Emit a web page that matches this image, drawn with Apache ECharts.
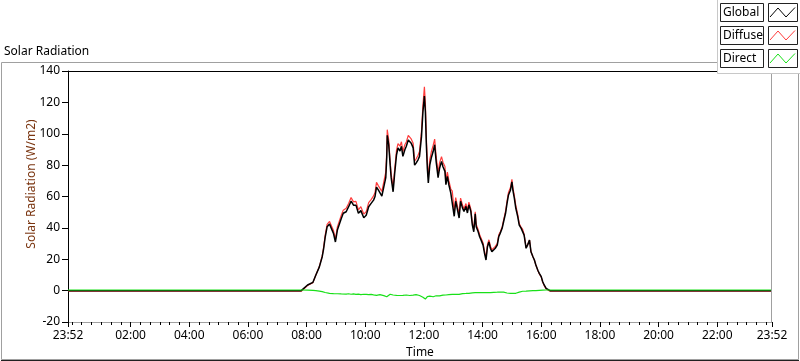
<!DOCTYPE html>
<html>
<head>
<meta charset="utf-8">
<script src="https://cdn.jsdelivr.net/npm/echarts@6/dist/echarts.min.js"></script>
<style>
html,body{margin:0;padding:0;background:#fff;}
#chart{width:800px;height:361px;}
</style>
</head>
<body>
<div id="chart"></div>
<script>
// Time in minutes since midnight (-8 = 23:52 previous day, 1432 = 23:52)
var times = [
  -8, 458, 469, 472, 482, 493, 499, 506, 512, 515,
  518, 522, 527, 531, 535, 539, 543, 547, 551, 555,
  561, 566, 571, 576, 581, 586, 591, 597, 602, 607,
  612, 617, 620, 623, 627, 630, 634, 638, 642, 644,
  645, 648, 651, 653, 657, 660, 664, 667, 671, 674,
  677, 681, 684, 688, 691, 694, 698, 701, 704, 708,
  711, 715, 718, 721, 723, 725, 727, 729, 732, 735,
  739, 742, 745, 749, 752, 756, 759, 763, 765, 768,
  771, 775, 778, 782, 785, 788, 792, 795, 799, 802,
  806, 809, 812, 816, 819, 822, 825, 827, 831, 834,
  837, 841, 844, 847, 850, 853, 856, 859, 863, 866,
  870, 873, 876, 880, 883, 887, 890, 893, 897, 900,
  902, 905, 908, 912, 915, 919, 922, 925, 929, 932,
  936, 939, 943, 946, 949, 953, 956, 960, 963, 966,
  970, 974, 978, 1432
];
var globalRad = [
  0, 0, 0, 0.8, 3.6, 5.3, 10, 15, 21.6, 27,
  34, 40.7, 42.4, 41.8, 36.5, 31, 38.6, 39.7, 46, 49.3,
  50.3, 53.5, 57, 54.5, 54.5, 49.3, 51, 46.5, 48, 53.5,
  55.6, 57.7, 60, 66, 64, 63, 60.3, 60.3, 72, 85,
  99, 93, 80, 72, 63, 74, 86.6, 91, 89, 92,
  85.6, 89.8, 92, 96, 95, 94, 91, 80, 81.3, 83.4,
  85.6, 98, 114, 124, 114, 93, 78, 68.6, 80, 84.5,
  88.8, 93, 82.4, 72, 78, 82.4, 79, 76, 67.5, 72.8,
  67.5, 62.2, 61, 47.4, 57, 52.6, 46.3, 57, 52.6, 50.5,
  53.7, 49.5, 54.7, 50.5, 42, 37.5, 49, 40.7, 37.5, 34.3,
  32.2, 29, 23.8, 19.5, 28, 31, 27, 24.8, 26, 27,
  29, 34.3, 36.5, 39.7, 43.9, 49.3, 55.6, 61, 64, 69.4,
  64, 58.8, 52.5, 47, 41.8, 39.7, 38.6, 35.4, 27, 29,
  32.2, 24.8, 21.6, 19.5, 16.3, 13, 11, 8.9, 5.7, 3.6,
  1.5, 0.4, 0, 0
];
var diffuseRad = [
  -0.4, -0.4, -0.4, 0.4, 3.3, 5.1, 10, 15.3, 22.2, 27.9,
  35.2, 42.2, 44.1, 43.4, 38.4, 32.7, 40.6, 41.5, 48.1, 51.3,
  52.5, 55.5, 59.3, 56.6, 56.9, 51.5, 53.5, 48.8, 50.4, 56.1,
  58.0, 60.4, 62.5, 69.0, 66.8, 65.6, 63.2, 63.5, 75.5, 88.9,
  102.6, 96.0, 82.3, 74.5, 65.8, 76.6, 89.6, 93.7, 92.1, 94.9,
  88.6, 93.0, 94.8, 98.9, 98.1, 96.7, 93.9, 82.6, 83.9, 86.3,
  88.7, 101.4, 118.2, 130, 119.4, 97.6, 81.8, 72.5, 83.5, 88.2,
  92.7, 96.6, 85.7, 75.1, 81.4, 85.4, 81.9, 79.2, 70.3, 75.5,
  70.1, 64.8, 63.4, 50.1, 59.3, 54.8, 48.7, 59.0, 54.5, 52.2,
  55.5, 51.1, 56.4, 52.0, 43.4, 39.1, 50.3, 42.2, 38.8, 35.7,
  33.4, 30.4, 25.1, 20.7, 29.3, 32.4, 28.3, 26.0, 27.1, 28.2,
  30.0, 35.4, 37.4, 40.6, 44.9, 50.6, 57.1, 62.6, 65.7, 70.9,
  65.7, 60.4, 54.2, 48.4, 42.8, 40.3, 39.0, 35.9, 27.3, 29.2,
  32.3, 24.8, 21.6, 19.4, 16.3, 12.9, 10.8, 8.6, 5.4, 3.2,
  1.1, 0, -0.4, -0.4
];
var directRad = [
  0.4, 0.4, 0.4, 0.4, 0.3, 0.2, 0, -0.3, -0.6, -0.9,
  -1.2, -1.5, -1.7, -1.6, -1.9, -1.7, -2.0, -1.8, -2.1, -2.0,
  -2.2, -2.0, -2.3, -2.1, -2.4, -2.2, -2.5, -2.3, -2.4, -2.6,
  -2.4, -2.7, -2.5, -3.0, -2.8, -2.6, -2.9, -3.2, -3.5, -3.9,
  -3.6, -3.0, -2.3, -2.5, -2.8, -2.6, -3.0, -2.7, -3.1, -2.9,
  -3.0, -3.2, -2.8, -2.9, -3.1, -2.7, -2.9, -2.6, -2.6, -2.9,
  -3.1, -3.4, -4.2, -5.0, -5.4, -4.6, -3.8, -3.9, -3.5, -3.7,
  -3.9, -3.6, -3.3, -3.1, -3.4, -3.0, -2.9, -3.2, -2.8, -2.7,
  -2.6, -2.6, -2.4, -2.7, -2.3, -2.2, -2.4, -2.0, -1.9, -1.7,
  -1.8, -1.6, -1.7, -1.5, -1.4, -1.6, -1.3, -1.5, -1.3, -1.4,
  -1.2, -1.4, -1.3, -1.2, -1.3, -1.4, -1.3, -1.2, -1.1, -1.2,
  -1.0, -1.1, -0.9, -0.9, -1.0, -1.3, -1.5, -1.6, -1.7, -1.5,
  -1.7, -1.6, -1.7, -1.4, -1.0, -0.6, -0.4, -0.5, -0.3, -0.2,
  -0.1, 0, 0, 0.1, 0, 0.1, 0.2, 0.3, 0.3, 0.4,
  0.4, 0.4, 0.4, 0.4
];
// x-axis tick labels (minutes)
var majorTicks = [-8, 120, 240, 360, 480, 600, 720, 840, 960, 1080, 1200, 1320, 1432];
var yTicks = [-20, 0, 20, 40, 60, 80, 100, 120, 140];
var legendNames = ['Global', 'Diffuse', 'Direct'];
var seriesColors = {Global: '#000000', Diffuse: '#ff3c3c', Direct: '#19e019'};

var allTicks = [-8];
for (var m = 0; m <= 1420; m += 20) allTicks.push(m);
allTicks.push(1432);

function pair(vals) { return times.map(function (t, i) { return [t, vals[i]]; }); }
function fmt(v) {
  var mm = ((v % 1440) + 1440) % 1440;
  var h = Math.floor(mm / 60), mi = Math.round(mm % 60);
  return (h < 10 ? '0' : '') + h + ':' + (mi < 10 ? '0' : '') + mi;
}

var FONT = 'Noto Sans';
var chart = echarts.init(document.getElementById('chart'), null, {renderer: 'canvas'});

var graphics = [
  // outer frame
  {type: 'rect', shape: {x: 1.5, y: 62.5, width: 797, height: 297}, style: {fill: 'none', stroke: '#a0a0a0', lineWidth: 1}, silent: true, z: 0},
  {type: 'line', shape: {x1: 1, y1: 360.5, x2: 799, y2: 360.5}, style: {stroke: '#202020', lineWidth: 1}, silent: true},
  // plot frame top (dark) and right (light)
  {type: 'line', shape: {x1: 68, y1: 71.5, x2: 772, y2: 71.5}, style: {stroke: '#000', lineWidth: 1}, silent: true, z: 10},
  {type: 'line', shape: {x1: 771.5, y1: 71, x2: 771.5, y2: 322}, style: {stroke: '#a0a0a0', lineWidth: 1}, silent: true, z: 10},
  // title
  {type: 'text', left: 4, top: 46, style: {text: 'Solar Radiation', font: '12px "' + FONT + '"', fill: '#000'}},
  // y axis name
  {type: 'text', x: 32, y: 184, rotation: Math.PI / 2, style: {text: 'Solar Radiation (W/m2)', font: '12px "' + FONT + '"', fill: '#7a3510', align: 'center', verticalAlign: 'middle'}},
  // legend panel
  {type: 'rect', shape: {x: 717.5, y: -1, width: 90, height: 74.5}, style: {fill: '#fff', stroke: '#c8c8c8', lineWidth: 1}, z: 20}
];
var legendTops = [3.5, 26.5, 49.5];
legendNames.forEach(function (name, i) {
  var ty = legendTops[i];
  graphics.push({type: 'rect', shape: {x: 720.5, y: ty, width: 43, height: 18}, style: {fill: '#fff', stroke: '#222', lineWidth: 1}, z: 21});
  graphics.push({type: 'text', x: 723, y: ty + 9.5, style: {text: name, font: '12px "' + FONT + '"', fill: '#000', verticalAlign: 'middle'}, z: 22});
  graphics.push({type: 'rect', shape: {x: 768.5, y: ty, width: 29, height: 18}, style: {fill: '#fff', stroke: '#222', lineWidth: 1}, z: 21});
  graphics.push({type: 'polyline', shape: {points: [[770, ty + 13.5], [778, ty + 4.5], [786, ty + 13.5], [795, ty + 4]]}, style: {stroke: seriesColors[name], lineWidth: 1, fill: 'none'}, z: 22});
});

var option = {
  animation: false,
  backgroundColor: '#fff',
  grid: {left: 68, right: 28, top: 71, bottom: 39, containLabel: false, outerBoundsMode: 'none'},
  xAxis: [
    {
      type: 'value', min: -8, max: 1432, position: 'bottom',
      name: 'Time', nameLocation: 'middle', nameGap: 25,
      nameTextStyle: {fontFamily: FONT, fontSize: 12, color: '#000'},
      axisLine: {show: true, onZero: false, lineStyle: {color: '#a0a0a0', width: 1}},
      axisTick: {show: true, customValues: allTicks, length: 3, lineStyle: {color: '#000'}},
      axisLabel: {show: true, customValues: majorTicks, margin: 8, fontFamily: FONT, fontSize: 12, color: '#000', formatter: fmt, showMinLabel: true, showMaxLabel: true},
      splitLine: {show: false}
    },
    {
      type: 'value', min: -8, max: 1432, position: 'bottom', offset: 0,
      axisLine: {show: true, onZero: false, lineStyle: {color: 'rgba(0,0,0,0)'}},
      axisTick: {show: true, customValues: majorTicks, length: 5, lineStyle: {color: '#000'}},
      axisLabel: {show: true, customValues: majorTicks, color: 'rgba(0,0,0,0)', formatter: fmt},
      splitLine: {show: false}
    }
  ],
  yAxis: {
    type: 'value', min: -20, max: 140, interval: 20,
    axisLine: {show: true, onZero: false, lineStyle: {color: '#000', width: 1}},
    axisTick: {show: true, length: 6, lineStyle: {color: '#000'}},
    axisLabel: {margin: 8, fontFamily: FONT, fontSize: 12, color: '#000', customValues: yTicks},
    splitLine: {show: false}
  },
  series: [
    {name: 'Diffuse', type: 'line', xAxisIndex: 0, data: pair(diffuseRad), showSymbol: false, symbol: 'none', lineStyle: {color: seriesColors.Diffuse, width: 1.2}, z: 2},
    {name: 'Global', type: 'line', xAxisIndex: 0, data: pair(globalRad), showSymbol: false, symbol: 'none', lineStyle: {color: seriesColors.Global, width: 1.5}, z: 3},
    {name: 'Direct', type: 'line', xAxisIndex: 0, data: pair(directRad), showSymbol: false, symbol: 'none', lineStyle: {color: seriesColors.Direct, width: 1.2}, z: 4}
  ],
  graphic: graphics
};
chart.setOption(option);
</script>
</body>
</html>
